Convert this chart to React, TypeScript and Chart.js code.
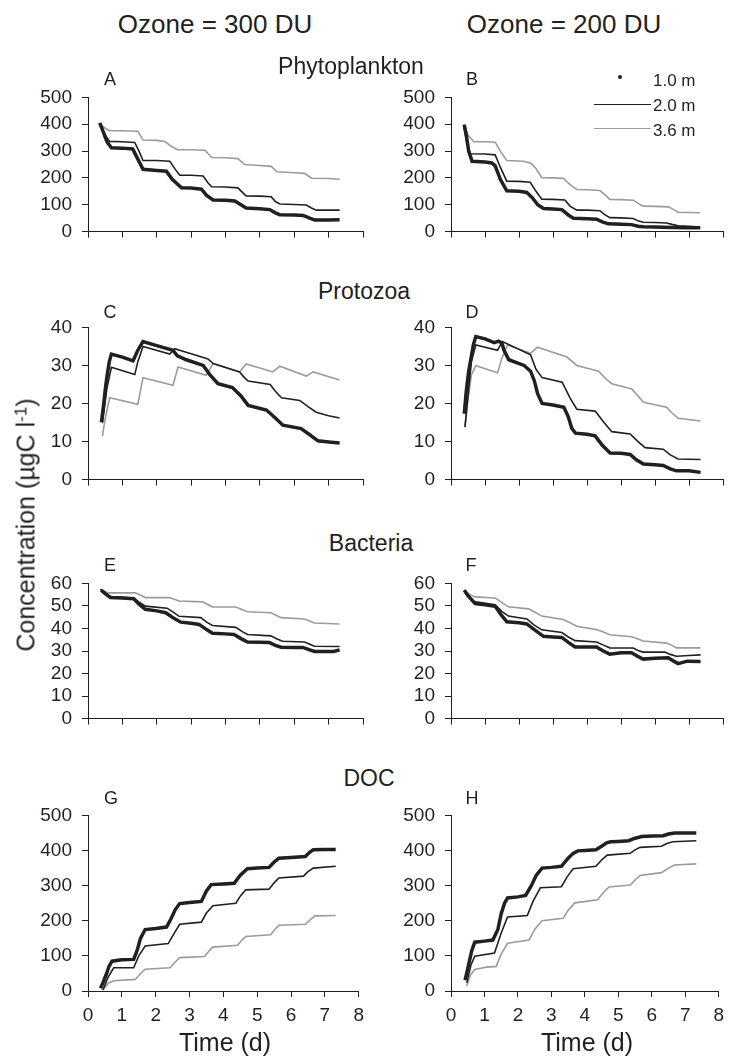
import React, { useEffect, useRef } from 'react';
import { Chart, registerables } from 'chart.js';
Chart.register(...registerables);

type Pt = [number, number];

// ---- Tick / text labels ----
const columnTitles = ['Ozone = 300 DU', 'Ozone = 200 DU'];
const rowTitles = ['Phytoplankton', 'Protozoa', 'Bacteria', 'DOC'];
const panelLetters = ['A', 'B', 'C', 'D', 'E', 'F', 'G', 'H'];
const seriesLabels = ['1.0 m', '2.0 m', '3.6 m'];
const xTitle = 'Time (d)';

// ---- Phytoplankton, 300 DU (A) ----
const phyto300_1m: Pt[] = [[0.34,405],[0.45,370],[0.55,335],[0.68,312],[1.0,311],[1.3,308],[1.45,270],[1.6,232],[2.0,228],[2.28,225],[2.45,195],[2.72,163],[3.0,162],[3.3,158],[3.45,135],[3.64,118],[4.0,117],[4.27,114],[4.45,100],[4.6,88],[5.0,85],[5.29,82],[5.45,70],[5.58,63],[6.0,62],[6.26,60],[6.45,50],[6.6,43],[7.0,43],[7.32,44]];
const phyto300_2m: Pt[] = [[0.34,402],[0.5,360],[0.63,336],[1.0,335],[1.36,332],[1.5,295],[1.6,265],[2.0,265],[2.38,262],[2.55,230],[2.67,210],[3.0,210],[3.35,207],[3.5,180],[3.6,167],[4.0,166],[4.36,163],[4.5,145],[4.6,133],[5.0,132],[5.33,130],[5.45,112],[5.58,103],[6.0,101],[6.35,99],[6.5,88],[6.64,80],[7.0,80],[7.32,80]];
const phyto300_36m: Pt[] = [[0.34,403],[0.5,385],[0.63,376],[1.0,376],[1.45,374],[1.6,341],[2.0,340],[2.23,336],[2.4,320],[2.6,305],[3.0,305],[3.4,303],[3.6,276],[4.0,275],[4.36,272],[4.56,250],[5.0,246],[5.33,243],[5.5,223],[6.0,219],[6.3,217],[6.5,199],[7.0,198],[7.32,195]];

// ---- Phytoplankton, 200 DU (B) ----
const phyto200_1m: Pt[] = [[0.39,398],[0.45,360],[0.52,300],[0.62,262],[1.0,259],[1.2,256],[1.3,245],[1.45,195],[1.64,152],[2.0,150],[2.23,146],[2.4,125],[2.55,100],[2.72,86],[3.0,84],[3.26,82],[3.45,62],[3.6,50],[4.0,48],[4.28,46],[4.45,36],[4.63,29],[5.0,27],[5.31,26],[5.5,20],[5.65,18],[6.0,17],[6.5,15],[7.0,14],[7.33,14]];
const phyto200_2m: Pt[] = [[0.37,395],[0.45,340],[0.57,290],[1.0,289],[1.3,286],[1.45,240],[1.64,188],[2.0,187],[2.33,184],[2.5,150],[2.67,121],[3.0,120],[3.35,118],[3.5,95],[3.7,80],[4.0,80],[4.38,78],[4.5,65],[4.67,52],[5.0,51],[5.36,49],[5.5,40],[5.65,35],[6.0,34],[6.34,32],[6.5,27],[6.68,22],[7.0,20],[7.33,17]];
const phyto200_36m: Pt[] = [[0.37,401],[0.5,360],[0.67,335],[1.0,335],[1.3,333],[1.45,300],[1.64,265],[2.13,262],[2.35,255],[2.5,235],[2.67,201],[3.0,200],[3.3,199],[3.5,175],[3.7,157],[4.0,156],[4.38,153],[4.55,135],[4.67,120],[5.0,119],[5.36,117],[5.5,105],[5.65,95],[6.0,94],[6.39,92],[6.55,82],[6.68,72],[7.0,71],[7.33,70]];

// ---- Protozoa, 300 DU (C) ----
const proto300_1m: Pt[] = [[0.39,15.1],[0.45,19.3],[0.5,23.5],[0.55,27],[0.62,31],[0.68,33],[1.0,32.2],[1.31,31.2],[1.45,34],[1.6,36.3],[2.0,35.2],[2.47,34.0],[2.6,32.5],[2.86,31.5],[3.35,30.0],[3.55,27.5],[3.78,25.2],[4.2,24.2],[4.45,22],[4.66,19.5],[5.19,18.3],[5.45,16.2],[5.67,14.3],[6.2,13.4],[6.45,11.8],[6.69,10.2],[7.0,9.9],[7.32,9.6]];
const proto300_2m: Pt[] = [[0.42,14.9],[0.55,24],[0.68,29.5],[1.36,27.6],[1.45,31],[1.6,35.0],[2.38,33.0],[2.52,34.4],[3.0,33.1],[3.49,31.7],[3.64,30.5],[4.41,28.3],[4.55,26.8],[4.66,25.9],[5.3,25.0],[5.45,23.2],[5.63,21.5],[6.16,20.8],[6.4,19.2],[6.64,17.7],[7.0,16.8],[7.32,16.2]];
const proto300_36m: Pt[] = [[0.42,11.4],[0.5,16],[0.63,21.5],[1.45,19.8],[1.6,26.8],[2.47,24.8],[2.62,29.6],[3.44,27.4],[3.64,30.5],[4.41,28.3],[4.6,30.4],[5.38,28.3],[5.58,29.8],[6.35,27.2],[6.55,28.3],[7.32,26.2]];

// ---- Protozoa, 200 DU (D) ----
const proto200_1m: Pt[] = [[0.39,17.3],[0.45,23.3],[0.52,28.5],[0.6,32.5],[0.66,35.5],[0.73,37.6],[1.0,37.0],[1.27,36.0],[1.4,36.4],[1.5,35.8],[1.56,34.0],[1.7,31.5],[2.15,30.0],[2.34,28.5],[2.45,26],[2.55,22.5],[2.68,20.0],[3.0,19.6],[3.32,19.0],[3.45,16.5],[3.55,13.5],[3.66,12.2],[4.0,11.9],[4.24,11.5],[4.45,9],[4.68,7.0],[5.0,6.9],[5.27,6.6],[5.45,5.2],[5.66,4.1],[6.0,3.9],[6.24,3.7],[6.45,2.8],[6.63,2.3],[7.0,2.3],[7.34,1.9]];
const proto200_2m: Pt[] = [[0.41,13.8],[0.5,22],[0.6,31],[0.73,35.4],[1.37,34.0],[1.51,36.3],[2.34,32.8],[2.5,29],[2.68,26.8],[3.27,25.6],[3.5,21.5],[3.7,18.5],[4.24,18.0],[4.5,15],[4.73,12.6],[5.27,12.0],[5.5,10],[5.71,8.4],[6.24,8.0],[6.45,6.5],[6.68,5.4],[7.34,5.3]];
const proto200_36m: Pt[] = [[0.41,13.8],[0.5,21],[0.6,27.5],[0.73,29.9],[1.37,28.1],[1.5,32],[1.66,35.4],[2.34,33.2],[2.54,34.8],[3.41,32.2],[3.7,30.0],[4.34,28.5],[4.55,26.5],[4.73,25.2],[5.32,23.8],[5.5,22],[5.66,20.3],[6.34,19.0],[6.5,17.5],[6.68,16.1],[7.34,15.4]];

// ---- Bacteria, 300 DU (E) ----
const bact300_1m: Pt[] = [[0.38,57.0],[0.5,55.5],[0.65,53.7],[1.0,53.5],[1.33,53.2],[1.5,50.5],[1.67,48.5],[2.0,47.8],[2.26,47.0],[2.5,44.5],[2.7,42.8],[3.0,42.3],[3.23,41.8],[3.45,39.5],[3.62,37.9],[4.0,37.6],[4.25,37.3],[4.45,35.5],[4.64,34.0],[5.0,33.9],[5.27,33.8],[5.45,32.5],[5.62,31.7],[6.0,31.6],[6.25,31.6],[6.45,30.5],[6.59,29.8],[7.15,29.8],[7.32,30.5]];
const bact300_2m: Pt[] = [[0.36,57.4],[0.5,55.5],[0.7,54.0],[1.33,53.5],[1.5,51.5],[1.67,49.9],[2.3,49.0],[2.5,47],[2.65,45.4],[3.28,44.8],[3.45,42.8],[3.62,41.3],[4.3,40.5],[4.5,38.5],[4.64,37.3],[5.32,36.7],[5.5,35.3],[5.66,34.3],[6.3,34.0],[6.45,33],[6.59,32.1],[7.32,32.0]];
const bact300_36m: Pt[] = [[0.36,57.4],[0.6,55.8],[1.38,55.8],[1.67,53.7],[2.36,53.7],[2.65,52.2],[3.33,51.8],[3.62,49.6],[4.3,49.5],[4.64,47.4],[5.32,47.0],[5.62,44.8],[6.3,44.2],[6.59,42.4],[7.32,42.0]];

// ---- Bacteria, 200 DU (F) ----
const bact200_1m: Pt[] = [[0.39,57.0],[0.5,54.5],[0.71,51.0],[1.0,50.5],[1.3,49.8],[1.45,46.5],[1.64,43.0],[2.0,42.5],[2.23,42.0],[2.45,39.5],[2.72,36.5],[3.0,36.2],[3.26,36.0],[3.45,33.8],[3.65,31.8],[4.0,31.8],[4.28,31.8],[4.48,30.0],[4.67,28.6],[5.0,29.2],[5.31,29.2],[5.5,27.6],[5.65,26.4],[6.0,26.8],[6.39,27.0],[6.55,25.5],[6.68,24.4],[6.95,25.5],[7.34,25.3]];
const bact200_2m: Pt[] = [[0.39,57.0],[0.5,54.5],[0.67,51.9],[1.3,50.5],[1.5,47.5],[1.69,45.5],[2.23,44.2],[2.45,41.5],[2.67,39.4],[3.26,38.2],[3.45,36.2],[3.65,34.6],[4.28,34.0],[4.5,32.5],[4.67,31.4],[5.36,31.3],[5.5,30.2],[5.65,29.5],[6.29,29.5],[6.45,28.5],[6.63,27.7],[7.0,28.0],[7.34,28.3]];
const bact200_36m: Pt[] = [[0.39,57.0],[0.55,55],[0.71,54.0],[1.3,53.5],[1.5,51.5],[1.69,49.6],[2.28,48.7],[2.5,47],[2.67,45.5],[3.3,44.0],[3.5,42.5],[3.7,41.0],[4.28,39.5],[4.5,38.3],[4.67,37.2],[5.31,36.3],[5.5,35.3],[5.65,34.4],[6.34,33.5],[6.5,32.5],[6.63,31.4],[7.34,31.4]];

// ---- DOC, 300 DU (G) ----
const doc300_1m: Pt[] = [[0.37,8],[0.45,25],[0.55,50],[0.62,70],[0.71,85],[1.0,89],[1.35,90],[1.45,115],[1.55,150],[1.69,175],[2.0,178],[2.32,182],[2.45,205],[2.58,232],[2.71,249],[3.0,252],[3.35,255],[3.5,285],[3.64,303],[4.0,305],[4.32,307],[4.5,330],[4.71,348],[5.0,350],[5.35,352],[5.5,367],[5.64,378],[6.0,380],[6.42,383],[6.55,395],[6.66,402],[7.0,403],[7.32,403]];
const doc300_2m: Pt[] = [[0.44,3],[0.6,40],[0.76,66],[1.35,66],[1.5,100],[1.69,128],[2.37,135],[2.55,165],[2.71,190],[3.35,196],[3.5,222],[3.69,243],[4.37,250],[4.5,270],[4.66,288],[5.35,290],[5.5,308],[5.64,322],[6.37,327],[6.5,340],[6.66,350],[7.32,355]];
const doc300_36m: Pt[] = [[0.44,3],[0.6,22],[0.76,29],[1.4,33],[1.55,50],[1.69,62],[2.42,66],[2.57,82],[2.71,95],[3.44,98],[3.57,113],[3.69,125],[4.42,130],[4.55,145],[4.66,155],[5.4,160],[5.52,175],[5.64,187],[6.42,190],[6.57,203],[6.71,214],[7.32,215]];

// ---- DOC, 200 DU (H) ----
const doc200_1m: Pt[] = [[0.42,31],[0.48,55],[0.55,85],[0.62,115],[0.71,139],[1.0,142],[1.25,145],[1.4,175],[1.5,220],[1.6,250],[1.69,265],[2.0,268],[2.23,272],[2.4,300],[2.55,330],[2.72,350],[3.0,352],[3.3,355],[3.5,378],[3.65,392],[3.79,399],[4.0,400],[4.33,402],[4.5,412],[4.65,422],[4.77,425],[5.0,426],[5.31,428],[5.5,435],[5.7,440],[6.0,441],[6.34,442],[6.5,447],[6.68,450],[7.0,450],[7.33,450]];
const doc200_2m: Pt[] = [[0.47,23],[0.6,75],[0.71,99],[1.3,108],[1.5,165],[1.69,211],[2.28,215],[2.45,255],[2.67,294],[3.3,297],[3.47,325],[3.65,348],[4.33,355],[4.5,373],[4.67,387],[5.36,392],[5.5,402],[5.65,409],[6.29,412],[6.45,420],[6.63,425],[7.33,428]];
const doc200_36m: Pt[] = [[0.47,14],[0.58,45],[0.71,61],[1.06,68],[1.35,70],[1.5,105],[1.69,136],[2.33,145],[2.5,175],[2.72,200],[3.35,207],[3.5,230],[3.7,251],[4.38,260],[4.55,280],[4.72,296],[5.36,302],[5.5,316],[5.65,329],[6.29,337],[6.5,350],[6.68,359],[7.33,362]];

const FONT = "'Liberation Sans', Arial, Helvetica, sans-serif";
const INK = '#231f20';
const GRAY = '#9b9b9b';

interface PanelDef {
  s1: Pt[]; s2: Pt[]; s3: Pt[];
  yMax: number; yStep: number;
  left: number; right: number; top: number; bottom: number;
  xLabels: boolean;
}

const panels: PanelDef[] = [
  { s1: phyto300_1m, s2: phyto300_2m, s3: phyto300_36m, yMax: 500, yStep: 100, left: 88, right: 363, top: 96, bottom: 241, xLabels: false },
  { s1: phyto200_1m, s2: phyto200_2m, s3: phyto200_36m, yMax: 500, yStep: 100, left: 451, right: 723, top: 96, bottom: 241, xLabels: false },
  { s1: proto300_1m, s2: proto300_2m, s3: proto300_36m, yMax: 40, yStep: 10, left: 88, right: 363, top: 326, bottom: 489, xLabels: false },
  { s1: proto200_1m, s2: proto200_2m, s3: proto200_36m, yMax: 40, yStep: 10, left: 451, right: 723, top: 326, bottom: 489, xLabels: false },
  { s1: bact300_1m, s2: bact300_2m, s3: bact300_36m, yMax: 60, yStep: 10, left: 88, right: 363, top: 582, bottom: 728, xLabels: false },
  { s1: bact200_1m, s2: bact200_2m, s3: bact200_36m, yMax: 60, yStep: 10, left: 451, right: 723, top: 582, bottom: 728, xLabels: false },
  { s1: doc300_1m, s2: doc300_2m, s3: doc300_36m, yMax: 500, yStep: 100, left: 88, right: 363, top: 814, bottom: 991, xLabels: true },
  { s1: doc200_1m, s2: doc200_2m, s3: doc200_36m, yMax: 500, yStep: 100, left: 451, right: 723, top: 814, bottom: 991, xLabels: true },
];

const YW = 70;
const PT = 20;
const PR = 8;

function Panel({ def }: { def: PanelDef }) {
  const ref = useRef<HTMLCanvasElement>(null);
  const XH = def.xLabels ? 45 : 12;
  const w = def.right - def.left + YW + PR;
  const h = def.bottom - def.top + PT + XH;
  useEffect(() => {
    const toXY = (a: Pt[]) => a.map(([x, y]) => ({ x, y }));
    const chart = new Chart(ref.current as HTMLCanvasElement, {
      type: 'line',
      data: {
        datasets: [
          { label: seriesLabels[0], data: toXY(def.s1), borderColor: INK, backgroundColor: INK, borderWidth: 3.5, pointRadius: 0, tension: 0, fill: false },
          { label: seriesLabels[1], data: toXY(def.s2), borderColor: INK, backgroundColor: INK, borderWidth: 1.6, pointRadius: 0, tension: 0, fill: false },
          { label: seriesLabels[2], data: toXY(def.s3), borderColor: GRAY, backgroundColor: GRAY, borderWidth: 1.6, pointRadius: 0, tension: 0, fill: false },
        ],
      },
      options: {
        animation: false,
        responsive: false,
        devicePixelRatio: 1,
        layout: { padding: { left: 0, top: PT, right: PR, bottom: 0 } },
        plugins: { legend: { display: false }, tooltip: { enabled: false }, title: { display: false } },
        scales: {
          x: {
            type: 'linear', min: 0, max: 8,
            ticks: { stepSize: 1, display: def.xLabels, padding: 7, color: INK, font: { family: FONT, size: 19 }, autoSkip: false, maxRotation: 0 },
            grid: { drawOnChartArea: false, drawTicks: true, tickLength: 6, color: INK, lineWidth: 1 },
            border: { display: true, color: INK, width: 1 },
            afterFit: (s: any) => { s.height = XH; },
          },
          y: {
            type: 'linear', min: 0, max: def.yMax,
            ticks: { stepSize: def.yStep, padding: 10, color: INK, font: { family: FONT, size: 19 }, autoSkip: false },
            grid: { drawOnChartArea: false, drawTicks: true, tickLength: 6, color: INK, lineWidth: 1 },
            border: { display: true, color: INK, width: 1 },
            afterFit: (s: any) => { s.width = YW; },
          },
        },
      } as any,
    });
    return () => chart.destroy();
  }, []);
  return (
    <canvas
      ref={ref}
      width={w}
      height={h}
      style={{ position: 'absolute', left: def.left - YW, top: def.top - PT, width: w, height: h }}
    />
  );
}

function Txt({ x, y, size, children, align = 'center', rotate = false }: any) {
  const tx = align === 'center' ? '-50%' : '0';
  return (
    <div
      style={{
        position: 'absolute', left: x, top: y,
        transform: `translate(${tx},-50%)${rotate ? ' rotate(-90deg)' : ''}`,
        fontFamily: FONT, fontSize: size, lineHeight: 1, whiteSpace: 'nowrap', color: INK,
      }}
    >
      {children}
    </div>
  );
}

const letterPos: Pt[] = [[110, 79], [472, 79], [110, 312], [472, 312], [110, 565], [471, 565], [111, 798], [472, 798]];
const rowTitlePos: Pt[] = [[351, 66], [364, 291], [371, 543], [369, 778]];

export default function App() {
  return (
    <div style={{ position: 'absolute', left: 0, top: 0, width: 731, height: 1056, overflow: 'hidden', background: '#fff' }}>
      {panels.map((p, i) => <Panel key={i} def={p} />)}
      <Txt x={215} y={24} size={26}>{columnTitles[0]}</Txt>
      <Txt x={564} y={24} size={26}>{columnTitles[1]}</Txt>
      {rowTitles.map((t, i) => <Txt key={t} x={rowTitlePos[i][0]} y={rowTitlePos[i][1]} size={23}>{t}</Txt>)}
      {panelLetters.map((t, i) => <Txt key={t} x={letterPos[i][0]} y={letterPos[i][1]} size={18}>{t}</Txt>)}
      <Txt x={26} y={525} size={25} rotate>
        Concentration (µgC l<span style={{ position: 'relative', top: '-0.45em', fontSize: '0.68em' }}>-1</span>)
      </Txt>
      <Txt x={225} y={1042} size={25}>{xTitle}</Txt>
      <Txt x={587} y={1042} size={25}>{xTitle}</Txt>
      {/* legend */}
      <div style={{ position: 'absolute', left: 618, top: 75, width: 4, height: 4, borderRadius: 2, background: INK }} />
      <div style={{ position: 'absolute', left: 594, top: 104, width: 57, height: 0, borderTop: `1.6px solid ${INK}` }} />
      <div style={{ position: 'absolute', left: 594, top: 128, width: 57, height: 0, borderTop: `1.6px solid ${GRAY}` }} />
      <Txt x={653} y={80} size={17} align="left">{seriesLabels[0]}</Txt>
      <Txt x={653} y={105} size={17} align="left">{seriesLabels[1]}</Txt>
      <Txt x={653} y={130} size={17} align="left">{seriesLabels[2]}</Txt>
    </div>
  );
}
